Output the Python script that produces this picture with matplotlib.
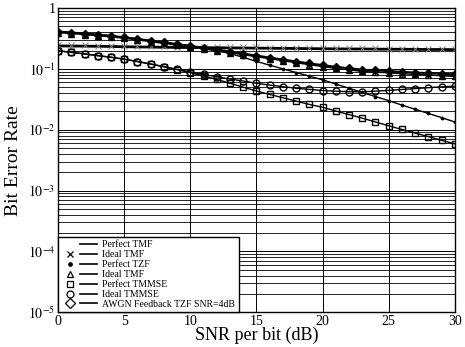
import numpy as np
import matplotlib
matplotlib.use("Agg")
import matplotlib.pyplot as plt
from matplotlib.lines import Line2D
from matplotlib.legend_handler import HandlerTuple
from matplotlib.ticker import FixedLocator, FuncFormatter, LogLocator

plt.rcParams['font.family'] = ['Liberation Serif', 'DejaVu Serif']
plt.rcParams['mathtext.fontset'] = 'stix'

snr = np.arange(0, 31)

perfect_tmf = [0.238, 0.237, 0.236, 0.235, 0.233, 0.231, 0.229, 0.228, 0.226, 0.225,
               0.224, 0.223, 0.222, 0.221, 0.220, 0.219, 0.218, 0.217, 0.216, 0.215,
               0.214, 0.213, 0.212, 0.212, 0.211, 0.210, 0.210, 0.209, 0.208, 0.208, 0.207]
ideal_tmf_x = [0.245, 0.244, 0.243, 0.241, 0.240, 0.238, 0.236, 0.235, 0.233, 0.231,
               0.230, 0.229, 0.228, 0.227, 0.226, 0.225, 0.224, 0.223, 0.222, 0.221,
               0.220, 0.219, 0.218, 0.217, 0.216, 0.215, 0.215, 0.214, 0.213, 0.213, 0.212]
perfect_tzf = [0.410, 0.395, 0.380, 0.365, 0.348, 0.330, 0.310, 0.290, 0.272, 0.255,
               0.238, 0.220, 0.200, 0.178, 0.155, 0.1325, 0.115, 0.100, 0.087, 0.076,
               0.066, 0.0563, 0.048, 0.041, 0.035, 0.030, 0.0254, 0.0217, 0.0185, 0.0158, 0.0134]
ideal_tmf_tri = [0.395, 0.380, 0.366, 0.351, 0.335, 0.318, 0.299, 0.280, 0.262, 0.245,
                 0.229, 0.213, 0.198, 0.184, 0.171, 0.158, 0.147, 0.136, 0.126, 0.117,
                 0.109, 0.102, 0.096, 0.091, 0.088, 0.086, 0.083, 0.081, 0.079, 0.077, 0.075]
perfect_tmmse = [0.198, 0.187, 0.176, 0.165, 0.155, 0.144, 0.132, 0.120, 0.108, 0.097,
                 0.0864, 0.076, 0.067, 0.058, 0.050, 0.0432, 0.038, 0.0335, 0.0295, 0.026,
                 0.0234, 0.0203, 0.0177, 0.0155, 0.0134, 0.0116, 0.0101, 0.0088, 0.0077, 0.0067, 0.00585]
ideal_tmmse = [0.198, 0.187, 0.176, 0.165, 0.155, 0.144, 0.132, 0.120, 0.109, 0.098,
               0.089, 0.081, 0.074, 0.068, 0.063, 0.058, 0.054, 0.051, 0.048, 0.046,
               0.044, 0.043, 0.042, 0.042, 0.043, 0.0443, 0.0458, 0.0474, 0.049, 0.0505, 0.052]
awgn_fb = [0.410, 0.395, 0.380, 0.365, 0.348, 0.330, 0.310, 0.290, 0.272, 0.255,
           0.238, 0.222, 0.207, 0.192, 0.178, 0.165, 0.153, 0.142, 0.132, 0.123,
           0.115, 0.108, 0.102, 0.097, 0.094, 0.092, 0.089, 0.087, 0.085, 0.083, 0.081]

labels = ['Perfect TMF', 'Ideal TMF', 'Perfect TZF', 'Ideal TMF',
          'Perfect TMMSE', 'Ideal TMMSE', 'AWGN Feedback TZF SNR=4dB']

fig = plt.figure(figsize=(4.65, 3.47), dpi=100)
ax = fig.add_axes([0.125, 0.1, 0.853, 0.877])

ax.semilogy(snr, perfect_tmf, color='black', lw=2.0)
ax.semilogy(snr, ideal_tmf_x, color='black', lw=0, marker='x', ms=4,
            mec='0.5', mew=0.7)
ax.semilogy(snr, perfect_tzf, color='black', lw=1.0, marker='.', ms=3.5)
ax.semilogy(snr, ideal_tmf_tri, color='black', lw=1.0, marker='^', ms=5,
            mfc='none', mew=1.0)
ax.semilogy(snr, perfect_tmmse, color='black', lw=1.0, marker='s', ms=4.5,
            mfc='none', mew=1.0)
ax.semilogy(snr, ideal_tmmse, color='black', lw=1.0, marker='o', ms=5,
            mfc='none', mew=1.0)
ax.semilogy(snr, awgn_fb, color='black', lw=1.5, marker='D', ms=4.5,
            mfc='black', mew=1.0)

ax.set_xlim(0, 30)
ax.set_ylim(1e-5, 1)
ax.set_xticks(range(0, 31, 5))
ax.yaxis.set_major_locator(FixedLocator([1e-5, 1e-4, 1e-3, 1e-2, 1e-1, 1]))
ax.yaxis.set_minor_locator(LogLocator(base=10, subs=np.arange(2, 10), numticks=20))


def fmt(v, pos):
    e = int(round(np.log10(v)))
    return '1' if e == 0 else r'$10^{%d}$' % e


ax.yaxis.set_major_formatter(FuncFormatter(fmt))
ax.yaxis.set_minor_formatter(FuncFormatter(lambda v, p: ''))
ax.tick_params(axis='both', which='both', direction='in', labelsize=10, length=0, pad=2)
ax.grid(True, which='major', color='black', lw=0.7)
ax.grid(True, which='minor', axis='y', color='black', lw=0.6)
for s in ax.spines.values():
    s.set_linewidth(1.0)

ax.set_xlabel('SNR per bit (dB)', fontsize=13, labelpad=-1)
ax.set_ylabel('Bit Error Rate', fontsize=14, labelpad=4)

# legend: marker on the left, line on the right
mk = [None, 'x', '.', '^', 's', 'o', 'D']
handles = []
for m in mk:
    left = Line2D([], [], ls='none', marker=m if m else '', color='black',
                  mfc='none' if m in ('^', 's', 'o', 'D') else 'black', ms=5, mew=0.9)
    right = Line2D([], [], color='black', lw=1.2)
    handles.append((left, right))
leg = ax.legend(handles, labels, handler_map={tuple: HandlerTuple(ndivide=None, pad=0.3)},
                loc='lower left', bbox_to_anchor=(0, 0), borderaxespad=0,
                fontsize=7, frameon=True, fancybox=False, framealpha=1,
                edgecolor='black', handlelength=3.6, handletextpad=0.6,
                labelspacing=0.1, borderpad=0.35)
leg.get_frame().set_linewidth(1.0)

fig.savefig('out.png', dpi=100)
